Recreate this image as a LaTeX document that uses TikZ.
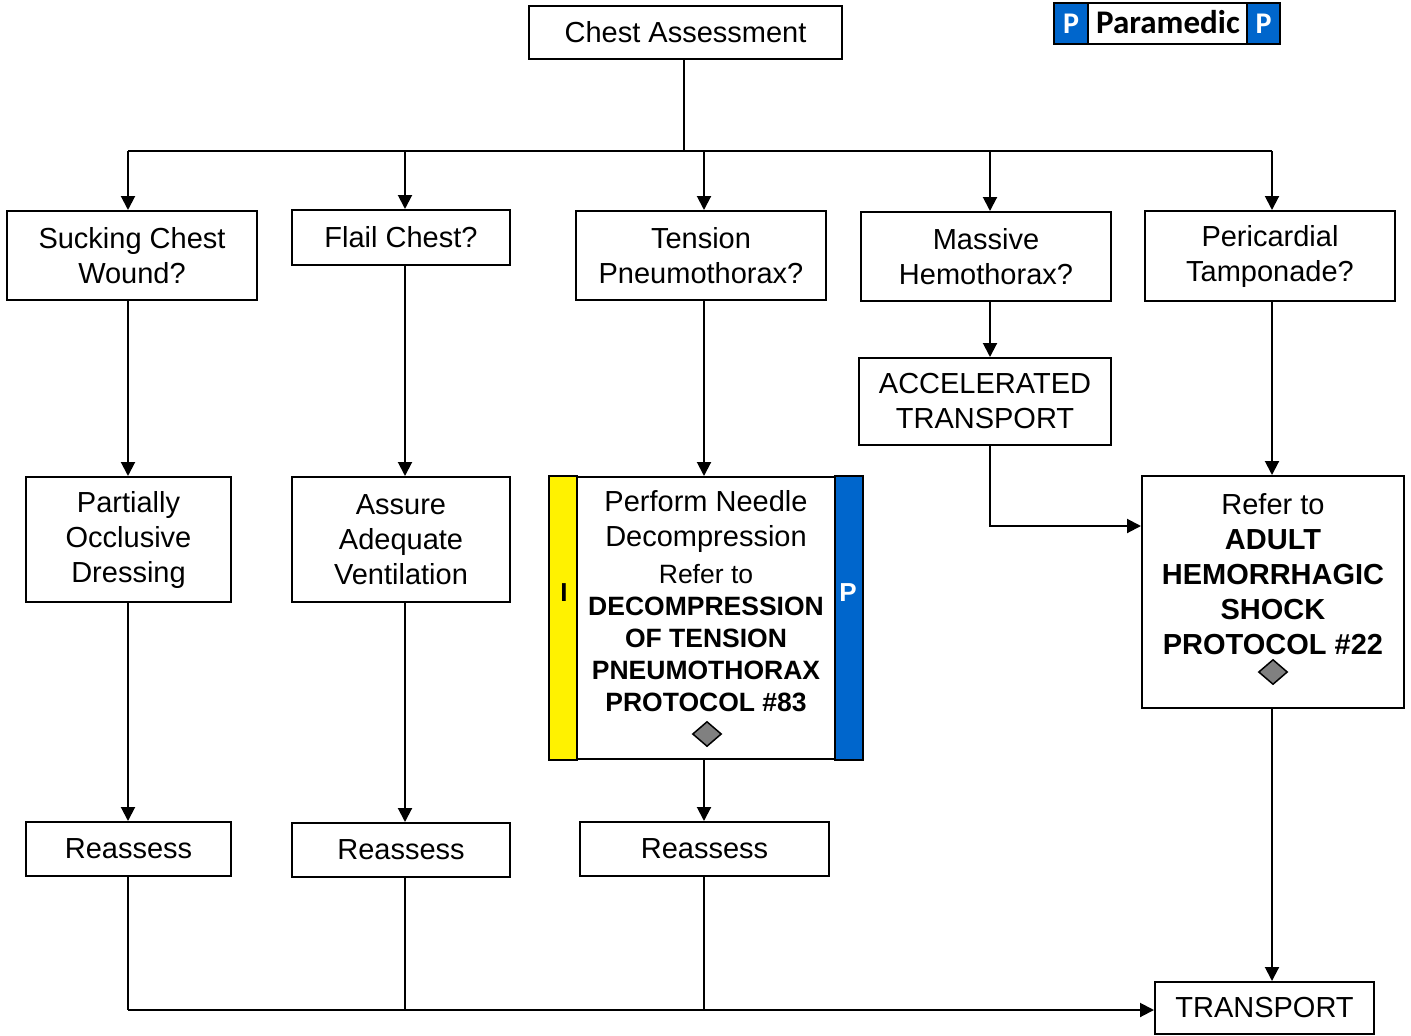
\documentclass[tikz,border=0pt]{standalone}
\usepackage{fontspec}
\setmainfont{Liberation Sans}
\newfontfamily\carlito{Carlito}
\usetikzlibrary{arrows.meta,shapes.geometric}
\definecolor{pblue}{RGB}{0,102,204}
\definecolor{dgray}{RGB}{128,128,128}
\begin{document}
\begin{tikzpicture}[x=1pt,y=-1pt,
  box/.style={draw,line width=2pt,inner sep=0pt,align=center,fill=white,font=\fontsize{29}{35}\selectfont},
  conn/.style={line width=2pt,-{Triangle[length=14pt,width=14pt]}},
  plain/.style={line width=2pt},
  txt/.style={inner sep=0pt,align=center},
  dmd/.style={diamond,draw,fill=dgray,line width=1.5pt,minimum width=29,minimum height=25,inner sep=0pt}]
\useasboundingbox (0,0) rectangle (1411,1036);
% legend
\node[draw,line width=2pt,minimum width=226,minimum height=41,inner sep=0pt] (leg) at (1167,23.5) {};
\node[draw,line width=2pt,fill=pblue,minimum width=34,minimum height=41,inner sep=0pt,text=white,font=\carlito\bfseries\fontsize{30}{36}\selectfont] (pl) at (1071,23.5) {P};
\node[draw,line width=2pt,fill=pblue,minimum width=33,minimum height=41,inner sep=0pt,text=white,font=\carlito\bfseries\fontsize{30}{36}\selectfont] (pr) at (1263.5,23.5) {P};
\node[txt,font=\carlito\bfseries\fontsize{33}{40}\selectfont] (legt) at (1168,22) {Paramedic};
% boxes
\node[box,minimum width=313,minimum height=53] (chest) at (685.5,32.5) {Chest Assessment};
\node[box,minimum width=250,minimum height=89] (suck) at (132,255.5) {Sucking Chest\\Wound?};
\node[box,minimum width=218,minimum height=55] (flail) at (401,237.5) {Flail Chest?};
\node[box,minimum width=250,minimum height=89] (tens) at (701,255.5) {Tension\\Pneumothorax?};
\node[box,minimum width=250,minimum height=89] (mass) at (986,256.5) {Massive\\Hemothorax?};
\node[box,minimum width=250,minimum height=90] (peri) at (1270,256) {Pericardial\\Tamponade?};
\node[box,minimum width=252,minimum height=87] (accel) at (985,401.5) {ACCELERATED\\TRANSPORT};
\node[box,minimum width=205,minimum height=125] (part) at (128.5,539.5) {Partially\\Occlusive\\Dressing};
\node[box,minimum width=218,minimum height=125] (assure) at (401,539.5) {Assure\\Adequate\\Ventilation};
\node[box,minimum width=312,minimum height=282] (needle) at (706,618) {};
\filldraw[fill=yellow,line width=2pt] (needle.north west) rectangle ([xshift=28pt]needle.south west);
\filldraw[fill=pblue,line width=2pt] ([xshift=-28pt]needle.north east) rectangle (needle.south east);
\node[txt,font=\bfseries\fontsize{26}{32}\selectfont] (ilab) at (564,593) {I};
\node[txt,text=white,font=\bfseries\fontsize{26}{32}\selectfont] (plab) at (848,593) {P};
\node[txt,font=\fontsize{29}{35}\selectfont] (nt1) at (706,521.5) {Perform Needle\\Decompression};
\node[txt,font=\fontsize{26.5}{32}\selectfont] (nt2) at (706,638) {Refer to\\\bfseries DECOMPRESSION\\\bfseries OF TENSION\\\bfseries PNEUMOTHORAX\\\bfseries PROTOCOL \#83};
\node[dmd] (d1) at (707,734) {};
\node[box,minimum width=262,minimum height=232] (refer) at (1273,592) {};
\node[txt,font=\fontsize{29}{35}\selectfont] (rt) at (1273,574) {Refer to\\\bfseries ADULT\\\bfseries HEMORRHAGIC\\\bfseries SHOCK\\\bfseries PROTOCOL \#22};
\node[dmd] (d2) at (1273,672) {};
\node[box,minimum width=205,minimum height=54] (re1) at (128.5,849) {Reassess};
\node[box,minimum width=218,minimum height=54] (re2) at (401,850) {Reassess};
\node[box,minimum width=249,minimum height=54] (re3) at (704.5,849) {Reassess};
\node[box,minimum width=219,minimum height=52] (trans) at (1264.5,1008) {TRANSPORT};
% connectors
\coordinate (b1) at (128,151);
\coordinate (b2) at (405,151);
\coordinate (b3) at (704,151);
\coordinate (b4) at (990,151);
\coordinate (b5) at (1272,151);
\draw[plain] (chest.south -| 684,0) -- (684,151);
\draw[plain] (b1) -- (b5);
\draw[conn] (b1) -- (b1 |- suck.north);
\draw[conn] (b2) -- (b2 |- flail.north);
\draw[conn] (b3) -- (b3 |- tens.north);
\draw[conn] (b4) -- (b4 |- mass.north);
\draw[conn] (b5) -- (b5 |- peri.north);
\draw[conn] (b1 |- suck.south) -- (b1 |- part.north);
\draw[conn] (b2 |- flail.south) -- (b2 |- assure.north);
\draw[conn] (b3 |- tens.south) -- (b3 |- needle.north);
\draw[conn] (b4 |- mass.south) -- (b4 |- accel.north);
\draw[conn] (b5 |- peri.south) -- (b5 |- refer.north);
\coordinate (k) at (990,526);
\draw[conn] (b4 |- accel.south) -- (k) -- (k -| refer.west);
\draw[conn] (b1 |- part.south) -- (b1 |- re1.north);
\draw[conn] (b2 |- assure.south) -- (b2 |- re2.north);
\draw[conn] (b3 |- needle.south) -- (b3 |- re3.north);
\draw[conn] (b5 |- refer.south) -- (b5 |- trans.north);
\coordinate (bl) at (128,1010);
\draw[plain] (b1 |- re1.south) -- (bl);
\draw[plain] (b2 |- re2.south) -- (b2 |- bl);
\draw[plain] (b3 |- re3.south) -- (b3 |- bl);
\draw[conn] (bl) -- (bl -| trans.west);
\end{tikzpicture}
\end{document}
